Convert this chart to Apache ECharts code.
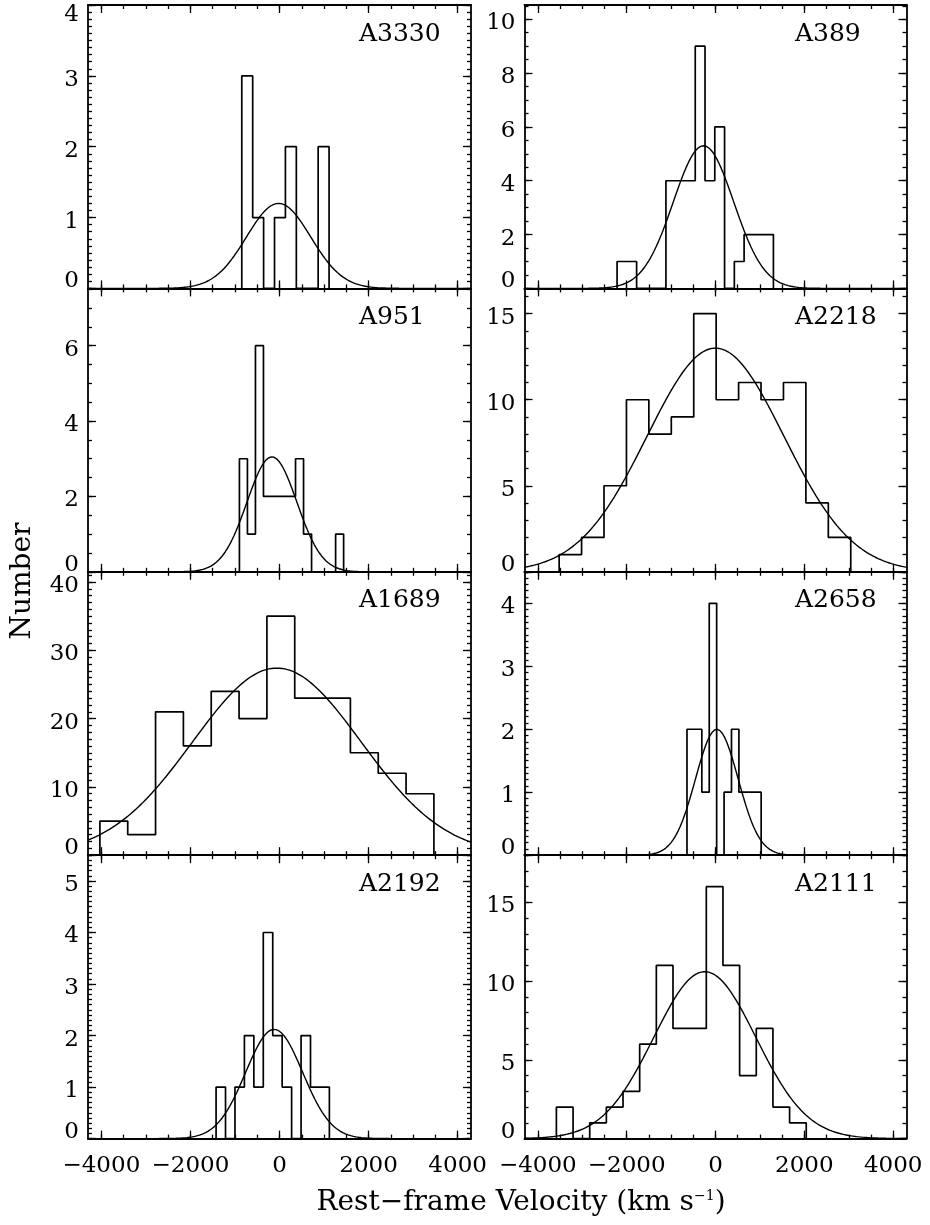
<!DOCTYPE html>
<html>
<head>
<meta charset="utf-8">
<script src="https://cdn.jsdelivr.net/npm/echarts@6/dist/echarts.min.js"></script>
<style>
  html, body { margin: 0; padding: 0; background: #fff; }
  #chart { width: 930px; height: 1225px; }
</style>
</head>
<body>
<div id="chart"></div>
<script>
// ===== Data =====
// panel order: left column top->bottom, then right column top->bottom
const clusters = ['A3330', 'A951', 'A1689', 'A2192', 'A389', 'A2218', 'A2658', 'A2111'];

// histogram bins: left edge of first bin, bin width (km/s), counts
const binStart = [-847, -900, -4033, -1424, -2216, -3520, -642, -3582];
const binWidth = [245, 180, 625, 212, 220, 505, 167, 375];
const cntA3330 = [3, 1, 0, 1, 2, 0, 0, 2];
const cntA951  = [3, 1, 6, 2, 2, 2, 2, 3, 1, 0, 0, 0, 1];
const cntA1689 = [5, 3, 21, 16, 24, 20, 35, 23, 23, 15, 12, 9];
const cntA2192 = [1, 0, 1, 2, 1, 4, 2, 1, 0, 2, 1, 1];
const cntA389  = [1, 1, 0, 0, 0, 4, 4, 4, 9, 4, 6, 0, 1, 2, 2, 2];
const cntA2218 = [1, 2, 5, 10, 8, 9, 15, 10, 11, 10, 11, 4, 2];
const cntA2658 = [2, 2, 1, 4, 0, 1, 2, 1, 1, 1];
const cntA2111 = [2, 0, 1, 2, 3, 6, 11, 7, 7, 16, 11, 4, 7, 2, 1];
const counts = [cntA3330, cntA951, cntA1689, cntA2192, cntA389, cntA2218, cntA2658, cntA2111];

// gaussian fit overlaid on each histogram
const fitMean  = [-20, -170, -60, -120, -270, 0, 30, -240];
const fitSigma = [720, 560, 1890, 640, 680, 1540, 480, 1150];
const fitPeak  = [1.2, 3.05, 27.4, 2.12, 5.3, 13.0, 2.0, 10.6];

// axes
const xMin = -4300, xMax = 4300;
const xMajorTicks = [-4000, -2000, 0, 2000, 4000];
const xMinorStep = 500;
const yMax       = [4.0, 7.52, 41.5, 5.5, 10.53, 16.47, 4.5, 18.0];
const yMajorStep = [1, 2, 10, 1, 2, 5, 1, 5];
const yMinorStep = [0.1, 0.5, 1, 0.1, 0.5, 1, 0.1, 1];

// ===== Layout / style =====
const FONT = '"DejaVu Serif", "Liberation Serif", serif';
const INK = '#000';
const colLeft = [88, 524.5];
const colWidth = [383, 382];
const rowTop = [5, 288.4, 571.8, 855.2];
const rowHeight = 283.4;

function steps(lo, hi, step) {
  const out = [];
  const n = Math.floor((hi - lo) / step + 1e-9);
  for (let i = 0; i <= n; i++) out.push(+(lo + i * step).toFixed(6));
  return out;
}

function histPoints(start, width, vals) {
  const pts = [[start, 0]];
  vals.forEach((v, k) => {
    pts.push([start + k * width, v]);
    pts.push([start + (k + 1) * width, v]);
  });
  pts.push([start + vals.length * width, 0]);
  return pts;
}

function gaussPoints(mu, sig, amp) {
  const pts = [];
  for (let x = xMin; x <= xMax; x += 20) {
    pts.push([x, amp * Math.exp(-0.5 * Math.pow((x - mu) / sig, 2))]);
  }
  return pts;
}

const grids = [], xAxes = [], yAxes = [], series = [], graphics = [];

clusters.forEach((name, i) => {
  const col = i < 4 ? 0 : 1;
  const row = i % 4;
  const bottomRow = row === 3;
  grids.push({
    left: colLeft[col], top: rowTop[row], width: colWidth[col], height: rowHeight,
    containLabel: false, outerBoundsMode: 'none'
  });

  const xMinor = steps(-4000, 4000, xMinorStep);
  const xDef = (position, ticks, len, line, labels) => ({
    type: 'value', gridIndex: i, position, min: xMin, max: xMax,
    axisLine: { show: line, onZero: false, lineStyle: { color: INK, width: 1.8 } },
    axisTick: { show: true, inside: true, length: len, customValues: ticks, lineStyle: { color: INK, width: 1.3 } },
    axisLabel: labels ? {
      show: true, customValues: xMajorTicks, margin: 16,
      color: INK, fontFamily: FONT, fontSize: 23,
      formatter: v => String(v).replace('-', '\u2212')
    } : { show: false },
    splitLine: { show: false }
  });
  xAxes.push(xDef('bottom', xMajorTicks, 8, true, bottomRow));
  xAxes.push(xDef('bottom', xMinor, 4, false, false));
  xAxes.push(xDef('top', xMajorTicks, 8, true, false));
  xAxes.push(xDef('top', xMinor, 4, false, false));

  const top = yMax[i];
  const yMajor = steps(0, top, yMajorStep[i]);
  const yMinor = steps(0, top, yMinorStep[i]);
  const lab = { color: INK, fontFamily: FONT, fontSize: 23 };
  const yDef = (position, ticks, len, line, labels) => ({
    type: 'value', gridIndex: i, position, min: 0, max: top,
    axisLine: { show: line, onZero: false, lineStyle: { color: INK, width: 1.8 } },
    axisTick: { show: true, inside: true, length: len, customValues: ticks, lineStyle: { color: INK, width: 1.3 } },
    axisLabel: labels ? {
      show: true, customValues: yMajor, margin: 9, ...lab,
      formatter: v => v === 0 ? '{z|0}' : (Math.abs(v - top) < 1e-6 ? '{t|' + v + '}' : '{n|' + v + '}'),
      rich: {
        n: { ...lab, padding: [8, 0, 0, 0] },
        z: { ...lab, padding: [0, 0, 14, 0] },
        t: { ...lab, padding: [20, 0, 0, 0] }
      }
    } : { show: false },
    splitLine: { show: false }
  });
  yAxes.push(yDef('left', yMajor, 8, true, true));
  yAxes.push(yDef('left', yMinor, 4, false, false));
  yAxes.push(yDef('right', yMajor, 8, true, false));
  yAxes.push(yDef('right', yMinor, 4, false, false));

  series.push({
    type: 'line', name: name + ' histogram', xAxisIndex: i * 4, yAxisIndex: i * 4,
    data: histPoints(binStart[i], binWidth[i], counts[i]),
    symbol: 'none', lineStyle: { color: INK, width: 1.7 }, silent: true
  });
  series.push({
    type: 'line', name: name + ' fit', xAxisIndex: i * 4, yAxisIndex: i * 4,
    data: gaussPoints(fitMean[i], fitSigma[i], fitPeak[i]),
    symbol: 'none', lineStyle: { color: INK, width: 1.4 }, silent: true
  });

  graphics.push({
    type: 'text', x: col === 0 ? 359 : 795, y: rowTop[row] + 29,
    style: {
      text: name, fill: INK, font: '25px ' + FONT,
      align: 'left', verticalAlign: 'middle', textAlign: 'left', textVerticalAlign: 'middle'
    }
  });
});

// axis titles
graphics.push({
  type: 'text', x: 23, y: 581, rotation: Math.PI / 2,
  style: {
    text: 'Number', fill: INK, font: '28px ' + FONT,
    align: 'center', verticalAlign: 'middle', textAlign: 'center', textVerticalAlign: 'middle'
  }
});
graphics.push({
  type: 'text', x: 521, y: 1203,
  style: {
    text: '{a|Rest\u2212frame Velocity (km s}{b|\u22121}{a|)}',
    rich: {
      a: { fontFamily: FONT, fontSize: 28, fill: INK, color: INK },
      b: { fontFamily: FONT, fontSize: 14, fill: INK, color: INK, verticalAlign: 'top' }
    },
    fill: INK,
    align: 'center', verticalAlign: 'middle', textAlign: 'center', textVerticalAlign: 'middle'
  }
});

const chart = echarts.init(document.getElementById('chart'), null, { renderer: 'canvas' });
chart.setOption({
  backgroundColor: '#fff',
  animation: false,
  grid: grids,
  xAxis: xAxes,
  yAxis: yAxes,
  series: series,
  graphic: { elements: graphics }
});
</script>
</body>
</html>
